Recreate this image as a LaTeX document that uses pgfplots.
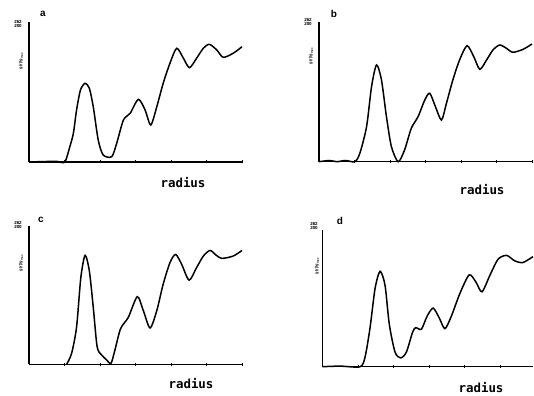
\documentclass[border=0pt]{standalone}
\usepackage{pgfplots}
\pgfplotsset{compat=1.18}
\usepackage{fontspec}
\setmainfont{Liberation Sans}
\newfontfamily\monofont{DejaVu Sans Mono}
\pgfplotsset{
  panel/.style={
    scale only axis, width=213bp, height=140bp,
    xmin=0, xmax=6, ymin=0, ymax=140,
    axis x line=bottom, axis y line=left,
    axis line style={line width=1.3bp, -},
    xtick={1,2,3,4,5,6}, xticklabels={}, ytick=\empty,
    major tick length=3bp,
    tick style={line width=0.8bp, black},
    xtick align=center,
    clip=false,
  },
  curve/.style={black, line width=1.5bp, smooth, tension=0.45, no marks},
}
\begin{document}
\begin{tikzpicture}[x=1bp,y=1bp]
\useasboundingbox (0bp,0bp) rectangle (534bp,396bp);
% ---- panel a ----
\begin{axis}[panel, at={(29bp,234bp)}, anchor=south west]
\addplot[curve] coordinates {
(0,0) (0.5,0.5) (0.8,0.5) (1.01,0) (1.15,15.3) (1.25,28.7) (1.34,52) (1.45,72) (1.58,78.7) (1.70,73.7)
(1.81,55.3) (1.95,22) (2.09,7) (2.33,5.3) (2.47,18.7) (2.66,42) (2.85,48.7) (3.08,62.7)
(3.27,52) (3.43,37) (3.60,55.3) (3.78,78.7) (3.97,98.7) (4.16,113.7) (4.35,103.7)
(4.52,94.3) (4.72,103.7) (4.91,113.7) (5.08,117.7) (5.29,112) (5.47,104.7) (5.75,108.7) (6.0,115.3)};
\end{axis}
% ---- panel b ----
\begin{axis}[panel, at={(319bp,234.3bp)}, anchor=south west]
\addplot[curve] coordinates {
(0,0) (0.3,1.2) (0.5,0) (0.75,1.2) (1.01,0) (1.15,8.4) (1.34,35) (1.48,75) (1.62,96.7) (1.76,81.7)
(1.90,45) (2.04,15) (2.23,0) (2.41,11.7) (2.60,33.4) (2.79,45) (2.98,61.7) (3.12,68.4)
(3.28,55) (3.45,41.7) (3.59,58.4) (3.77,81.7) (3.96,101.7) (4.17,116) (4.36,105)
(4.53,92.4) (4.72,101.7) (4.90,111.7) (5.09,116.7) (5.28,113.4) (5.46,109.4) (5.75,112.4) (6.0,117.7)};
\end{axis}
% ---- panel c ----
\begin{axis}[panel, at={(29bp,31.7bp)}, anchor=south west, height=138.6bp]
\addplot[curve] coordinates {
(1.06,0) (1.20,11) (1.34,37.6) (1.46,87.6) (1.58,110) (1.70,94.3) (1.81,57.6) (1.92,17.6)
(2.05,9.3) (2.19,4.3) (2.31,1) (2.42,14.3) (2.58,36) (2.80,47.6) (3.05,68.3) (3.22,54.3)
(3.41,36.7) (3.60,54.3) (3.78,81) (3.97,102.6) (4.13,111) (4.30,101) (4.51,85) (4.72,97.6)
(4.91,109.3) (5.10,115) (5.27,110.3) (5.43,107) (5.75,109.3) (6.0,115)};
\end{axis}
% ---- panel d ----
\begin{axis}[panel, at={(322.3bp,29.3bp)}, anchor=south west, height=136.7bp, width=211bp, xmax=5.92]
\addplot[curve] coordinates {
(0,0) (0.5,0.6) (1.06,0) (1.20,10) (1.34,40) (1.48,80) (1.62,97.7) (1.76,83.4) (1.88,43.4)
(2.04,15) (2.20,9) (2.36,15) (2.53,35) (2.62,40) (2.78,38.4) (2.94,51.7) (3.11,60)
(3.28,50) (3.44,39) (3.62,51.7) (3.86,75) (4.12,94) (4.31,86.7) (4.48,76.7) (4.70,93.4)
(4.93,110) (5.17,114) (5.40,108.4) (5.63,106.7) (5.91,112.7)};
\end{axis}
% ---- labels ----
\node[font=\bfseries\fontsize{10}{12}\selectfont] at (43bp,382bp) {a};
\node[font=\bfseries\fontsize{10}{12}\selectfont] at (334bp,382bp) {b};
\node[font=\bfseries\fontsize{10}{12}\selectfont] at (41bp,176bp) {c};
\node[font=\bfseries\fontsize{10}{12}\selectfont] at (340bp,175bp) {d};
\node[font=\monofont\bfseries\fontsize{12.5}{15}\selectfont] at (183bp,213bp) {radius};
\node[font=\monofont\bfseries\fontsize{12.5}{15}\selectfont] at (482bp,206bp) {radius};
\node[font=\monofont\bfseries\fontsize{12.5}{15}\selectfont] at (191bp,12bp) {radius};
\node[font=\monofont\bfseries\fontsize{12.5}{15}\selectfont] at (481bp,8bp) {radius};
% tiny y-axis annotations
\foreach \px/\py/\ty in {18/372/335, 308/374/340, 18/171/133, 314/170/130}{
  \node[font=\bfseries\fontsize{4.5}{4.5}\selectfont, align=center, inner sep=0] at (\px bp,\py bp) {262\\200};
  \node[font=\bfseries\fontsize{4}{4}\selectfont, rotate=90, inner sep=0] at (\px bp+3bp,\ty bp) {g(r)/g\textsubscript{max}};
}
\end{tikzpicture}
\end{document}
